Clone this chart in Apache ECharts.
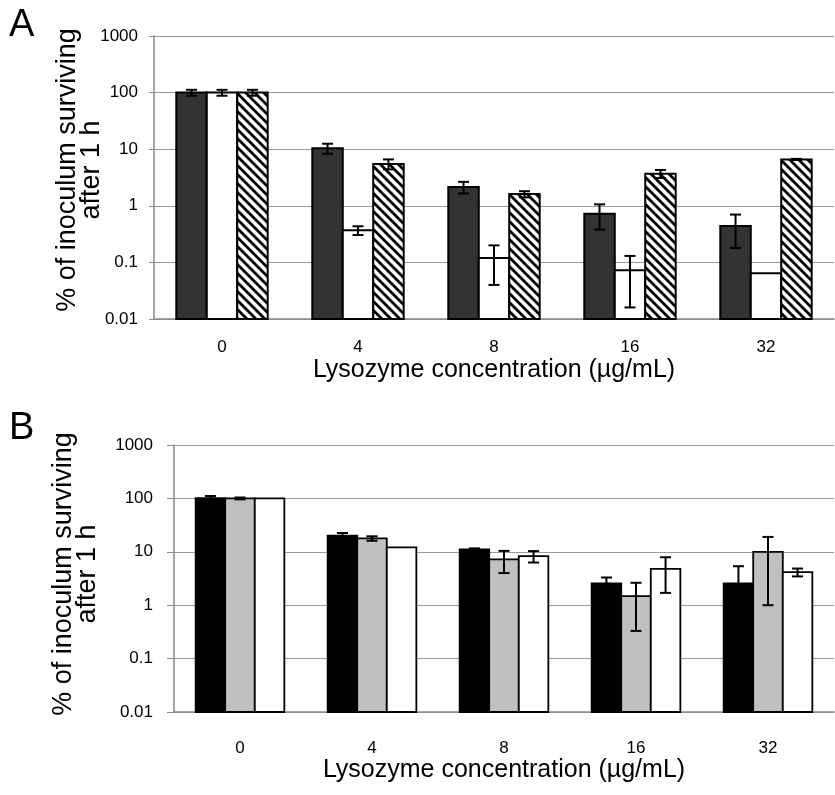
<!DOCTYPE html>
<html>
<head>
<meta charset="utf-8">
<script src="https://cdn.jsdelivr.net/npm/echarts@6/dist/echarts.min.js"></script>
<style>
  html, body { margin: 0; padding: 0; background: #fff; }
  #chart { width: 835px; height: 795px; }
</style>
</head>
<body>
<div id="chart"></div>
<script>
/* ── Data ── */
const CATEGORIES = ['0', '4', '8', '16', '32'];
const Y_TICKS = ['0.01', '0.1', '1', '10', '100', '1000'];
const Y_MIN = 0.01;
const Y_MAX = 1000;

// Panel A: dark, open, hatched
const A_DARK      = [100, 10.4, 2.15, 0.72, 0.44];
const A_DARK_ERR  = [12, 2.1, 0.5, 0.34, 0.26];
const A_OPEN      = [100, 0.37, 0.12, 0.073, 0.064];
const A_OPEN_ERR  = [12, 0.065, 0.08, 0.057, 0];
const A_HATCH     = [100, 5.5, 1.61, 3.7, 6.6];
const A_HATCH_ERR = [12, 1.1, 0.2, 0.6, 0.15];

// Panel B: black, grey, open
const B_BLACK     = [101, 20, 11.1, 2.55, 2.57];
const B_BLACK_ERR = [10, 2.5, 0.5, 0.75, 2.8];
const B_GREY      = [100, 17.8, 7.2, 1.48, 10];
const B_GREY_ERR  = [4, 1.7, 3.2, 1.15, 9];
const B_OPEN      = [100, 12.1, 8.3, 4.8, 4.16];
const B_OPEN_ERR  = [0, 0, 2, 3.1, 0.7];

const X_TITLE = 'Lysozyme concentration (µg/mL)';
const Y_TITLE = '% of inoculum surviving\nafter 1 h';

/* ── Style constants ── */
const FONT = '"Liberation Sans", Arial, Helvetica, sans-serif';
const AXIS_GREY = '#8a8a8a';
const GRID_GREY = '#9a9a9a';
const BAR_FRAC = 0.224;   // width of one bar as share of the category band

/* hatch pattern: black "\" stripes on white */
function makeHatch() {
    const s = 9;
    const c = document.createElement('canvas');
    c.width = s; c.height = s;
    const g = c.getContext('2d');
    g.fillStyle = '#fff';
    g.fillRect(0, 0, s, s);
    g.strokeStyle = '#000';
    g.lineWidth = 2.8;
    g.beginPath();
    g.moveTo(-2, -2); g.lineTo(s + 2, s + 2);
    g.moveTo(-2, s - 2); g.lineTo(2, s + 2);
    g.moveTo(s - 2, -2); g.lineTo(s + 2, 2);
    g.stroke();
    return { image: c, repeat: 'repeat' };
}
const HATCH = makeHatch();

/* bar + error bar drawn through the grid's own axes */
function barRenderer(slot, fill, lineWidth) {
    return function (params, api) {
        const i = api.value(0);
        const v = api.value(1);
        const e = api.value(2);
        const top = api.coord([i, v]);
        const band = api.coord([1, v])[0] - api.coord([0, v])[0];
        const bw = band * BAR_FRAC;
        const cx = top[0] + (slot - 1) * bw;
        const base = api.coord([i, Y_MIN])[1];
        const children = [{
            type: 'rect',
            shape: { x: cx - bw / 2, y: top[1], width: bw, height: base - top[1] },
            style: { fill: fill, stroke: '#000', lineWidth: lineWidth },
        }];
        if (e > 0) {
            const yHi = api.coord([i, v + e])[1];
            const yLo = api.coord([i, Math.max(v - e, Y_MIN)])[1];
            const cap = 5.5;
            const st = { stroke: '#000', lineWidth: 2 };
            children.push(
                { type: 'line', shape: { x1: cx, y1: yHi, x2: cx, y2: yLo }, style: st },
                { type: 'line', shape: { x1: cx - cap, y1: yHi, x2: cx + cap, y2: yHi }, style: st }
            );
            if (v - e > Y_MIN) {
                children.push({ type: 'line', shape: { x1: cx - cap, y1: yLo, x2: cx + cap, y2: yLo }, style: st });
            }
        }
        return { type: 'group', children: children };
    };
}

function barSeries(gridIdx, slot, values, errs, fill, lineWidth) {
    return {
        type: 'custom',
        xAxisIndex: gridIdx,
        yAxisIndex: gridIdx,
        renderItem: barRenderer(slot, fill, lineWidth),
        encode: { x: 0, y: 1 },
        data: values.map((v, i) => [i, v, errs[i]]),
        silent: true,
    };
}

function xAxis(gridIdx, labelMargin, nameGap) {
    return {
        type: 'category',
        gridIndex: gridIdx,
        data: CATEGORIES,
        axisLine: { onZero: false, lineStyle: { color: AXIS_GREY, width: 1.5 } },
        axisTick: { length: 6, lineStyle: { color: AXIS_GREY, width: 1 } },
        axisLabel: { margin: labelMargin, fontSize: 17, color: '#000', fontFamily: FONT },
        name: X_TITLE,
        nameLocation: 'middle',
        nameGap: nameGap,
        nameTextStyle: { fontSize: 25, color: '#000', fontFamily: FONT },
    };
}

function yAxis(gridIdx, labelMargin, tickLen) {
    return {
        type: 'log',
        logBase: 10,
        gridIndex: gridIdx,
        min: Y_MIN,
        max: Y_MAX,
        splitNumber: 5,
        axisLine: { show: true, lineStyle: { color: AXIS_GREY, width: 1.5 } },
        axisTick: { show: true, length: tickLen, lineStyle: { color: AXIS_GREY, width: 1 } },
        axisLabel: {
            margin: labelMargin, fontSize: 17, color: '#000', fontFamily: FONT,
            formatter: (v) => Y_TICKS[Math.round(Math.log10(v)) + 2],
        },
        splitLine: { show: true, lineStyle: { color: GRID_GREY, width: 1 } },
        minorTick: { show: false },
    };
}

const chart = echarts.init(document.getElementById('chart'), null, { renderer: 'canvas' });

chart.setOption({
    animation: false,
    backgroundColor: '#fff',
    grid: [
        { left: 154, top: 36, width: 680, height: 283, outerBoundsMode: 'none' },
        { left: 174, top: 445, width: 660, height: 267, outerBoundsMode: 'none' },
    ],
    xAxis: [xAxis(0, 20, 39), xAxis(1, 28, 45)],
    yAxis: [yAxis(0, 16, 5), yAxis(1, 21, 7)],
    graphic: [
        { type: 'text', left: 9, top: 7, style: { text: 'A', font: '38px ' + FONT, fill: '#000' } },
        { type: 'text', left: 9, top: 410, style: { text: 'B', font: '38px ' + FONT, fill: '#000' } },
        {
            type: 'text', x: 80, y: 170, rotation: Math.PI / 2,
            style: { text: Y_TITLE, font: '27px ' + FONT, fill: '#000', align: 'center', verticalAlign: 'middle', lineHeight: 24 },
        },
        {
            type: 'text', x: 76, y: 574, rotation: Math.PI / 2,
            style: { text: Y_TITLE, font: '27px ' + FONT, fill: '#000', align: 'center', verticalAlign: 'middle', lineHeight: 24 },
        },
    ],
    series: [
        barSeries(0, 0, A_DARK, A_DARK_ERR, '#333333', 2),
        barSeries(0, 1, A_OPEN, A_OPEN_ERR, '#ffffff', 2),
        barSeries(0, 2, A_HATCH, A_HATCH_ERR, HATCH, 2),
        barSeries(1, 0, B_BLACK, B_BLACK_ERR, '#000000', 1.8),
        barSeries(1, 1, B_GREY, B_GREY_ERR, '#c0c0c0', 1.8),
        barSeries(1, 2, B_OPEN, B_OPEN_ERR, '#ffffff', 1.8),
    ],
});
</script>
</body>
</html>
